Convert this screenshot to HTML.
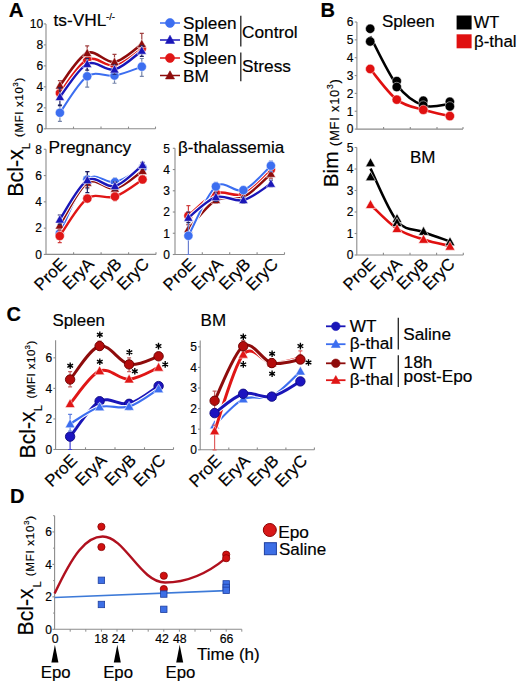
<!DOCTYPE html><html><head><meta charset="utf-8"><title>Figure</title><style>html,body{margin:0;padding:0;background:#fff;overflow:hidden;}svg{display:block;}text{font-family:"Liberation Sans", sans-serif;stroke:#000;stroke-width:0.18px;}</style></head><body>
<svg width="520" height="686" viewBox="0 0 520 686">
<rect width="520" height="686" fill="#fff"/>
<text x="8.8" y="16.8" font-size="20.5" text-anchor="start" font-weight="bold">A</text>
<g stroke="#8c8c8c" stroke-width="1.1" fill="none">
<path d="M46,23.9 V128.8 H155.5"/>
<path d="M46,128.8 h-2.2"/>
<path d="M46,107.82 h-2.2"/>
<path d="M46,86.84 h-2.2"/>
<path d="M46,65.86 h-2.2"/>
<path d="M46,44.88 h-2.2"/>
<path d="M46,23.9 h-2.2"/>
<path d="M73.5,128.8 v-2.2"/>
<path d="M101,128.8 v-2.2"/>
<path d="M128.5,128.8 v-2.2"/>
<path d="M155.5,128.8 v-2.2"/>
</g>
<text x="43.1" y="133.1" font-size="12" text-anchor="end">0</text>
<text x="43.1" y="112.12" font-size="12" text-anchor="end">2</text>
<text x="43.1" y="91.14" font-size="12" text-anchor="end">4</text>
<text x="43.1" y="70.16" font-size="12" text-anchor="end">6</text>
<text x="43.1" y="49.18" font-size="12" text-anchor="end">8</text>
<text x="43.1" y="28.2" font-size="12" text-anchor="end">10</text>
<text x="53.5" y="25.7" font-size="17.3" text-anchor="start">ts-VHL</text>
<text x="106" y="19.9" font-size="9.6" text-anchor="start">-/-</text>
<path d="M59.9,112.75 C64.45,106.68 78.1,82.54 87.2,76.35 C96.3,70.16 105.4,77.22 114.5,75.62 C123.6,74.01 137.25,68.19 141.8,66.7" fill="none" stroke="#fff" stroke-width="4" stroke-linecap="round"/>
<path d="M59.9,112.75 C64.45,106.68 78.1,82.54 87.2,76.35 C96.3,70.16 105.4,77.22 114.5,75.62 C123.6,74.01 137.25,68.19 141.8,66.7" fill="none" stroke="#3c6ef0" stroke-width="2" stroke-linecap="round"/>
<path d="M59.9,104.67 V121.46 M57.9,104.67 h4 M57.9,121.46 h4" stroke="#7484aa" stroke-width="1.2" fill="none"/>
<path d="M87.2,65.86 V87.15 M85.2,65.86 h4 M85.2,87.15 h4" stroke="#7484aa" stroke-width="1.2" fill="none"/>
<path d="M114.5,67.96 V83.27 M112.5,67.96 h4 M112.5,83.27 h4" stroke="#7484aa" stroke-width="1.2" fill="none"/>
<path d="M141.8,58.52 V76.35 M139.8,58.52 h4 M139.8,76.35 h4" stroke="#7484aa" stroke-width="1.2" fill="none"/>
<circle cx="59.9" cy="112.75" r="4.6" fill="#3c6ef0" stroke="#fff" stroke-width="0.5"/>
<circle cx="87.2" cy="76.35" r="4.6" fill="#3c6ef0" stroke="#fff" stroke-width="0.5"/>
<circle cx="114.5" cy="75.62" r="4.6" fill="#3c6ef0" stroke="#fff" stroke-width="0.5"/>
<circle cx="141.8" cy="66.7" r="4.6" fill="#3c6ef0" stroke="#fff" stroke-width="0.5"/>
<path d="M59.9,93.03 C64.45,87.49 78.1,64.39 87.2,59.78 C96.3,55.16 105.4,67.21 114.5,65.34 C123.6,63.46 137.25,51.35 141.8,48.55" fill="none" stroke="#fff" stroke-width="4.6" stroke-linecap="round"/>
<path d="M59.9,93.03 C64.45,87.49 78.1,64.39 87.2,59.78 C96.3,55.16 105.4,67.21 114.5,65.34 C123.6,63.46 137.25,51.35 141.8,48.55" fill="none" stroke="#e01616" stroke-width="2.6" stroke-linecap="round"/>
<circle cx="59.9" cy="93.03" r="4.6" fill="#e01616" stroke="#fff" stroke-width="0.5"/>
<circle cx="87.2" cy="59.78" r="4.6" fill="#e01616" stroke="#fff" stroke-width="0.5"/>
<circle cx="114.5" cy="65.34" r="4.6" fill="#e01616" stroke="#fff" stroke-width="0.5"/>
<circle cx="141.8" cy="48.55" r="4.6" fill="#e01616" stroke="#fff" stroke-width="0.5"/>
<path d="M59.9,85.48 C64.45,80.07 78.1,56.98 87.2,53.06 C96.3,49.15 105.4,63.48 114.5,61.98 C123.6,60.48 137.25,47.03 141.8,44.04" fill="none" stroke="#fff" stroke-width="4.6" stroke-linecap="round"/>
<path d="M59.9,85.48 C64.45,80.07 78.1,56.98 87.2,53.06 C96.3,49.15 105.4,63.48 114.5,61.98 C123.6,60.48 137.25,47.03 141.8,44.04" fill="none" stroke="#8e0c0c" stroke-width="2.6" stroke-linecap="round"/>
<path d="M59.9,80.55 V91.04 M57.9,80.55 h4 M57.9,91.04 h4" stroke="#a04040" stroke-width="1.2" fill="none"/>
<path d="M87.2,45.93 V59.57 M85.2,45.93 h4 M85.2,59.57 h4" stroke="#a04040" stroke-width="1.2" fill="none"/>
<path d="M114.5,54.32 V70.06 M112.5,54.32 h4 M112.5,70.06 h4" stroke="#a04040" stroke-width="1.2" fill="none"/>
<path d="M141.8,33.34 V52.22 M139.8,33.34 h4 M139.8,52.22 h4" stroke="#a04040" stroke-width="1.2" fill="none"/>
<polygon points="59.9,80.67 55.3,88.95 64.5,88.95" fill="#8e0c0c" stroke="#fff" stroke-width="0.5" stroke-linejoin="round"/>
<polygon points="87.2,48.26 82.6,56.54 91.8,56.54" fill="#8e0c0c" stroke="#fff" stroke-width="0.5" stroke-linejoin="round"/>
<polygon points="114.5,57.18 109.9,65.46 119.1,65.46" fill="#8e0c0c" stroke="#fff" stroke-width="0.5" stroke-linejoin="round"/>
<polygon points="141.8,39.24 137.2,47.52 146.4,47.52" fill="#8e0c0c" stroke="#fff" stroke-width="0.5" stroke-linejoin="round"/>
<path d="M59.9,97.02 C64.45,91.51 78.1,68.55 87.2,63.97 C96.3,59.39 105.4,71.73 114.5,69.53 C123.6,67.33 137.25,53.88 141.8,50.75" fill="none" stroke="#fff" stroke-width="4.4" stroke-linecap="round"/>
<path d="M59.9,97.02 C64.45,91.51 78.1,68.55 87.2,63.97 C96.3,59.39 105.4,71.73 114.5,69.53 C123.6,67.33 137.25,53.88 141.8,50.75" fill="none" stroke="#1a16b8" stroke-width="2.4" stroke-linecap="round"/>
<path d="M59.9,87.89 V105.72 M57.9,87.89 h4 M57.9,105.72 h4" stroke="#202060" stroke-width="1.2" fill="none"/>
<path d="M87.2,58.52 V70.06 M85.2,58.52 h4 M85.2,70.06 h4" stroke="#202060" stroke-width="1.2" fill="none"/>
<path d="M114.5,64.81 V74.25 M112.5,64.81 h4 M112.5,74.25 h4" stroke="#202060" stroke-width="1.2" fill="none"/>
<path d="M141.8,45.93 V56.42 M139.8,45.93 h4 M139.8,56.42 h4" stroke="#202060" stroke-width="1.2" fill="none"/>
<polygon points="59.9,92.21 55.3,100.49 64.5,100.49" fill="#1a16b8" stroke="#fff" stroke-width="0.5" stroke-linejoin="round"/>
<polygon points="87.2,59.17 82.6,67.45 91.8,67.45" fill="#1a16b8" stroke="#fff" stroke-width="0.5" stroke-linejoin="round"/>
<polygon points="114.5,64.73 109.9,73.01 119.1,73.01" fill="#1a16b8" stroke="#fff" stroke-width="0.5" stroke-linejoin="round"/>
<polygon points="141.8,45.95 137.2,54.23 146.4,54.23" fill="#1a16b8" stroke="#fff" stroke-width="0.5" stroke-linejoin="round"/>
<line x1="160" y1="23" x2="180" y2="23" stroke="#3c6ef0" stroke-width="1.5"/>
<circle cx="170" cy="23" r="4.5" fill="#3c6ef0" stroke="#3c6ef0" stroke-width="0.6"/>
<text x="183" y="29.4" font-size="17.2" text-anchor="start">Spleen</text>
<line x1="160" y1="40" x2="180" y2="40" stroke="#1a16b8" stroke-width="1.5"/>
<polygon points="170,35.3 165.5,43.4 174.5,43.4" fill="#1a16b8" stroke="#1a16b8" stroke-width="0.6" stroke-linejoin="round"/>
<text x="183" y="46.4" font-size="17.2" text-anchor="start">BM</text>
<line x1="160" y1="58" x2="180" y2="58" stroke="#e01616" stroke-width="1.5"/>
<circle cx="170" cy="58" r="4.5" fill="#e01616" stroke="#e01616" stroke-width="0.6"/>
<text x="183" y="64.4" font-size="17.2" text-anchor="start">Spleen</text>
<line x1="160" y1="75.5" x2="180" y2="75.5" stroke="#8e0c0c" stroke-width="1.5"/>
<polygon points="170,70.8 165.5,78.9 174.5,78.9" fill="#8e0c0c" stroke="#8e0c0c" stroke-width="0.6" stroke-linejoin="round"/>
<text x="183" y="81.9" font-size="17.2" text-anchor="start">BM</text>
<line x1="240.8" y1="15.8" x2="240.8" y2="46.6" stroke="#222" stroke-width="1.3"/>
<line x1="240.8" y1="52.5" x2="240.8" y2="81.2" stroke="#222" stroke-width="1.3"/>
<text x="242" y="38.2" font-size="17.3" text-anchor="start">Control</text>
<text x="242" y="72.4" font-size="17.3" text-anchor="start">Stress</text>
<g stroke="#8c8c8c" stroke-width="1.1" fill="none">
<path d="M46,149.28 V254.4 H156"/>
<path d="M46,254.4 h-2.2"/>
<path d="M46,228.12 h-2.2"/>
<path d="M46,201.84 h-2.2"/>
<path d="M46,175.56 h-2.2"/>
<path d="M46,149.28 h-2.2"/>
<path d="M73.6,254.4 v-2.2"/>
<path d="M101.1,254.4 v-2.2"/>
<path d="M128.6,254.4 v-2.2"/>
<path d="M156,254.4 v-2.2"/>
</g>
<text x="41.9" y="258.7" font-size="12" text-anchor="end">0</text>
<text x="41.9" y="232.42" font-size="12" text-anchor="end">2</text>
<text x="41.9" y="206.14" font-size="12" text-anchor="end">4</text>
<text x="41.9" y="179.86" font-size="12" text-anchor="end">6</text>
<text x="41.9" y="153.58" font-size="12" text-anchor="end">8</text>
<text x="48.6" y="152.5" font-size="17.3" text-anchor="start">Pregnancy</text>
<path d="M59.75,233.38 C64.35,224.4 78.15,188.04 87.35,179.5 C96.55,170.96 105.75,184.1 114.95,182.13 C124.15,180.16 137.95,170.08 142.55,167.68" fill="none" stroke="#fff" stroke-width="4" stroke-linecap="round"/>
<path d="M59.75,233.38 C64.35,224.4 78.15,188.04 87.35,179.5 C96.55,170.96 105.75,184.1 114.95,182.13 C124.15,180.16 137.95,170.08 142.55,167.68" fill="none" stroke="#3c6ef0" stroke-width="2" stroke-linecap="round"/>
<path d="M59.75,228.12 V238.63 M57.75,228.12 h4 M57.75,238.63 h4" stroke="#7484aa" stroke-width="1.2" fill="none"/>
<path d="M87.35,171.62 V188.7 M85.35,171.62 h4 M85.35,188.7 h4" stroke="#7484aa" stroke-width="1.2" fill="none"/>
<path d="M114.95,178.19 V186.07 M112.95,178.19 h4 M112.95,186.07 h4" stroke="#7484aa" stroke-width="1.2" fill="none"/>
<path d="M142.55,163.73 V171.62 M140.55,163.73 h4 M140.55,171.62 h4" stroke="#7484aa" stroke-width="1.2" fill="none"/>
<circle cx="59.75" cy="233.38" r="4.6" fill="#3c6ef0" stroke="#fff" stroke-width="0.5"/>
<circle cx="87.35" cy="179.5" r="4.6" fill="#3c6ef0" stroke="#fff" stroke-width="0.5"/>
<circle cx="114.95" cy="182.13" r="4.6" fill="#3c6ef0" stroke="#fff" stroke-width="0.5"/>
<circle cx="142.55" cy="167.68" r="4.6" fill="#3c6ef0" stroke="#fff" stroke-width="0.5"/>
<path d="M59.75,225.49 C64.35,218.37 78.15,188.92 87.35,182.79 C96.55,176.66 105.75,190.67 114.95,188.7 C124.15,186.73 137.95,173.92 142.55,170.96" fill="none" stroke="#fff" stroke-width="4.4" stroke-linecap="round"/>
<path d="M59.75,225.49 C64.35,218.37 78.15,188.92 87.35,182.79 C96.55,176.66 105.75,190.67 114.95,188.7 C124.15,186.73 137.95,173.92 142.55,170.96" fill="none" stroke="#8e0c0c" stroke-width="2.4" stroke-linecap="round"/>
<path d="M59.75,221.55 V229.43 M57.75,221.55 h4 M57.75,229.43 h4" stroke="#a04040" stroke-width="1.2" fill="none"/>
<path d="M87.35,178.19 V187.39 M85.35,178.19 h4 M85.35,187.39 h4" stroke="#a04040" stroke-width="1.2" fill="none"/>
<path d="M114.95,184.76 V192.64 M112.95,184.76 h4 M112.95,192.64 h4" stroke="#a04040" stroke-width="1.2" fill="none"/>
<path d="M142.55,167.68 V175.56 M140.55,167.68 h4 M140.55,175.56 h4" stroke="#a04040" stroke-width="1.2" fill="none"/>
<polygon points="59.75,220.69 55.15,228.97 64.35,228.97" fill="#8e0c0c" stroke="#fff" stroke-width="0.5" stroke-linejoin="round"/>
<polygon points="87.35,177.98 82.75,186.26 91.95,186.26" fill="#8e0c0c" stroke="#fff" stroke-width="0.5" stroke-linejoin="round"/>
<polygon points="114.95,183.9 110.35,192.18 119.55,192.18" fill="#8e0c0c" stroke="#fff" stroke-width="0.5" stroke-linejoin="round"/>
<polygon points="142.55,166.16 137.95,174.44 147.15,174.44" fill="#8e0c0c" stroke="#fff" stroke-width="0.5" stroke-linejoin="round"/>
<path d="M59.75,236 C64.35,229.76 78.15,205.12 87.35,198.56 C96.55,191.99 105.75,199.76 114.95,196.58 C124.15,193.41 137.95,182.35 142.55,179.5" fill="none" stroke="#fff" stroke-width="4.4" stroke-linecap="round"/>
<path d="M59.75,236 C64.35,229.76 78.15,205.12 87.35,198.56 C96.55,191.99 105.75,199.76 114.95,196.58 C124.15,193.41 137.95,182.35 142.55,179.5" fill="none" stroke="#e01616" stroke-width="2.4" stroke-linecap="round"/>
<path d="M59.75,230.75 V242.57 M57.75,230.75 h4 M57.75,242.57 h4" stroke="#d04040" stroke-width="1.2" fill="none"/>
<path d="M87.35,195.27 V201.84 M85.35,195.27 h4 M85.35,201.84 h4" stroke="#d04040" stroke-width="1.2" fill="none"/>
<path d="M114.95,192.64 V200.53 M112.95,192.64 h4 M112.95,200.53 h4" stroke="#d04040" stroke-width="1.2" fill="none"/>
<path d="M142.55,175.56 V183.44 M140.55,175.56 h4 M140.55,183.44 h4" stroke="#d04040" stroke-width="1.2" fill="none"/>
<circle cx="59.75" cy="236" r="4.6" fill="#e01616" stroke="#fff" stroke-width="0.5"/>
<circle cx="87.35" cy="198.56" r="4.6" fill="#e01616" stroke="#fff" stroke-width="0.5"/>
<circle cx="114.95" cy="196.58" r="4.6" fill="#e01616" stroke="#fff" stroke-width="0.5"/>
<circle cx="142.55" cy="179.5" r="4.6" fill="#e01616" stroke="#fff" stroke-width="0.5"/>
<path d="M59.75,219.58 C64.35,213.01 78.15,185.74 87.35,180.16 C96.55,174.57 105.75,188.59 114.95,186.07 C124.15,183.55 137.95,168.55 142.55,165.05" fill="none" stroke="#fff" stroke-width="4.4" stroke-linecap="round"/>
<path d="M59.75,219.58 C64.35,213.01 78.15,185.74 87.35,180.16 C96.55,174.57 105.75,188.59 114.95,186.07 C124.15,183.55 137.95,168.55 142.55,165.05" fill="none" stroke="#1a16b8" stroke-width="2.4" stroke-linecap="round"/>
<path d="M59.75,214.98 V224.18 M57.75,214.98 h4 M57.75,224.18 h4" stroke="#202060" stroke-width="1.2" fill="none"/>
<path d="M87.35,171.62 V192.64 M85.35,171.62 h4 M85.35,192.64 h4" stroke="#202060" stroke-width="1.2" fill="none"/>
<path d="M114.95,182.13 V190.01 M112.95,182.13 h4 M112.95,190.01 h4" stroke="#202060" stroke-width="1.2" fill="none"/>
<path d="M142.55,162.42 V168.99 M140.55,162.42 h4 M140.55,168.99 h4" stroke="#202060" stroke-width="1.2" fill="none"/>
<polygon points="59.75,214.78 55.15,223.06 64.35,223.06" fill="#1a16b8" stroke="#fff" stroke-width="0.5" stroke-linejoin="round"/>
<polygon points="87.35,175.36 82.75,183.64 91.95,183.64" fill="#1a16b8" stroke="#fff" stroke-width="0.5" stroke-linejoin="round"/>
<polygon points="114.95,181.27 110.35,189.55 119.55,189.55" fill="#1a16b8" stroke="#fff" stroke-width="0.5" stroke-linejoin="round"/>
<polygon points="142.55,160.25 137.95,168.53 147.15,168.53" fill="#1a16b8" stroke="#fff" stroke-width="0.5" stroke-linejoin="round"/>
<text font-size="16.8" text-anchor="end" transform="translate(67.35,265) rotate(-45)">ProE</text>
<text font-size="16.8" text-anchor="end" transform="translate(94.95,265) rotate(-45)">EryA</text>
<text font-size="16.8" text-anchor="end" transform="translate(122.55,265) rotate(-45)">EryB</text>
<text font-size="16.8" text-anchor="end" transform="translate(150.15,265) rotate(-45)">EryC</text>
<g stroke="#8c8c8c" stroke-width="1.1" fill="none">
<path d="M175,148.3 V254.5 H284.5"/>
<path d="M175,254.5 h-2.2"/>
<path d="M175,233.26 h-2.2"/>
<path d="M175,212.02 h-2.2"/>
<path d="M175,190.78 h-2.2"/>
<path d="M175,169.54 h-2.2"/>
<path d="M175,148.3 h-2.2"/>
<path d="M202.3,254.5 v-2.2"/>
<path d="M229.7,254.5 v-2.2"/>
<path d="M257.1,254.5 v-2.2"/>
<path d="M284.5,254.5 v-2.2"/>
</g>
<text x="169.9" y="258.8" font-size="12" text-anchor="end">0</text>
<text x="169.9" y="237.56" font-size="12" text-anchor="end">1</text>
<text x="169.9" y="216.32" font-size="12" text-anchor="end">2</text>
<text x="169.9" y="195.08" font-size="12" text-anchor="end">3</text>
<text x="169.9" y="173.84" font-size="12" text-anchor="end">4</text>
<text x="169.9" y="152.6" font-size="12" text-anchor="end">5</text>
<text x="178" y="152.5" font-size="17" text-anchor="start">&#946;-thalassemia</text>
<path d="M188.4,215.84 C192.98,212.09 206.73,196.97 215.9,193.33 C225.07,189.68 234.23,197.93 243.4,193.97 C252.57,190 266.32,173.61 270.9,169.54" fill="none" stroke="#fff" stroke-width="4.4" stroke-linecap="round"/>
<path d="M188.4,215.84 C192.98,212.09 206.73,196.97 215.9,193.33 C225.07,189.68 234.23,197.93 243.4,193.97 C252.57,190 266.32,173.61 270.9,169.54" fill="none" stroke="#e01616" stroke-width="2.4" stroke-linecap="round"/>
<path d="M188.4,205.65 V224.76 M186.4,205.65 h4 M186.4,224.76 h4" stroke="#d04040" stroke-width="1.2" fill="none"/>
<path d="M215.9,190.78 V197.15 M213.9,190.78 h4 M213.9,197.15 h4" stroke="#d04040" stroke-width="1.2" fill="none"/>
<path d="M243.4,190.78 V197.15 M241.4,190.78 h4 M241.4,197.15 h4" stroke="#d04040" stroke-width="1.2" fill="none"/>
<path d="M270.9,165.29 V173.79 M268.9,165.29 h4 M268.9,173.79 h4" stroke="#d04040" stroke-width="1.2" fill="none"/>
<circle cx="188.4" cy="215.84" r="4.6" fill="#e01616" stroke="#fff" stroke-width="0.5"/>
<circle cx="215.9" cy="193.33" r="4.6" fill="#e01616" stroke="#fff" stroke-width="0.5"/>
<circle cx="243.4" cy="193.97" r="4.6" fill="#e01616" stroke="#fff" stroke-width="0.5"/>
<circle cx="270.9" cy="169.54" r="4.6" fill="#e01616" stroke="#fff" stroke-width="0.5"/>
<path d="M188.4,229.01 C192.98,224.2 206.73,205.44 215.9,200.13 C225.07,194.82 234.23,201.54 243.4,197.15 C252.57,192.76 266.32,177.68 270.9,173.79" fill="none" stroke="#fff" stroke-width="4.4" stroke-linecap="round"/>
<path d="M188.4,229.01 C192.98,224.2 206.73,205.44 215.9,200.13 C225.07,194.82 234.23,201.54 243.4,197.15 C252.57,192.76 266.32,177.68 270.9,173.79" fill="none" stroke="#8e0c0c" stroke-width="2.4" stroke-linecap="round"/>
<path d="M188.4,224.76 V233.26 M186.4,224.76 h4 M186.4,233.26 h4" stroke="#a04040" stroke-width="1.2" fill="none"/>
<path d="M215.9,197.15 V203.52 M213.9,197.15 h4 M213.9,203.52 h4" stroke="#a04040" stroke-width="1.2" fill="none"/>
<path d="M243.4,193.97 V200.34 M241.4,193.97 h4 M241.4,200.34 h4" stroke="#a04040" stroke-width="1.2" fill="none"/>
<path d="M270.9,169.54 V178.04 M268.9,169.54 h4 M268.9,178.04 h4" stroke="#a04040" stroke-width="1.2" fill="none"/>
<polygon points="188.4,224.21 183.8,232.49 193,232.49" fill="#8e0c0c" stroke="#fff" stroke-width="0.5" stroke-linejoin="round"/>
<polygon points="215.9,195.32 211.3,203.6 220.5,203.6" fill="#8e0c0c" stroke="#fff" stroke-width="0.5" stroke-linejoin="round"/>
<polygon points="243.4,192.35 238.8,200.63 248,200.63" fill="#8e0c0c" stroke="#fff" stroke-width="0.5" stroke-linejoin="round"/>
<polygon points="270.9,168.99 266.3,177.27 275.5,177.27" fill="#8e0c0c" stroke="#fff" stroke-width="0.5" stroke-linejoin="round"/>
<path d="M188.4,235.81 C192.98,227.6 206.73,194.14 215.9,186.53 C225.07,178.92 234.23,193.61 243.4,190.14 C252.57,186.67 266.32,169.79 270.9,165.72" fill="none" stroke="#fff" stroke-width="4" stroke-linecap="round"/>
<path d="M188.4,235.81 C192.98,227.6 206.73,194.14 215.9,186.53 C225.07,178.92 234.23,193.61 243.4,190.14 C252.57,186.67 266.32,169.79 270.9,165.72" fill="none" stroke="#3c6ef0" stroke-width="2" stroke-linecap="round"/>
<path d="M188.4,216.27 V254.5 M186.4,216.27 h4 M186.4,254.5 h4" stroke="#6a7fd0" stroke-width="1.2" fill="none"/>
<path d="M215.9,182.28 V190.78 M213.9,182.28 h4 M213.9,190.78 h4" stroke="#6a7fd0" stroke-width="1.2" fill="none"/>
<path d="M243.4,186.53 V192.9 M241.4,186.53 h4 M241.4,192.9 h4" stroke="#6a7fd0" stroke-width="1.2" fill="none"/>
<path d="M270.9,161.04 V171.66 M268.9,161.04 h4 M268.9,171.66 h4" stroke="#6a7fd0" stroke-width="1.2" fill="none"/>
<circle cx="188.4" cy="235.81" r="4.6" fill="#3c6ef0" stroke="#fff" stroke-width="0.5"/>
<circle cx="215.9" cy="186.53" r="4.6" fill="#3c6ef0" stroke="#fff" stroke-width="0.5"/>
<circle cx="243.4" cy="190.14" r="4.6" fill="#3c6ef0" stroke="#fff" stroke-width="0.5"/>
<circle cx="270.9" cy="165.72" r="4.6" fill="#3c6ef0" stroke="#fff" stroke-width="0.5"/>
<path d="M188.4,217.75 C192.98,214.32 206.73,200.09 215.9,197.15 C225.07,194.21 234.23,202.36 243.4,200.13 C252.57,197.9 266.32,186.5 270.9,183.77" fill="none" stroke="#fff" stroke-width="4.4" stroke-linecap="round"/>
<path d="M188.4,217.75 C192.98,214.32 206.73,200.09 215.9,197.15 C225.07,194.21 234.23,202.36 243.4,200.13 C252.57,197.9 266.32,186.5 270.9,183.77" fill="none" stroke="#1a16b8" stroke-width="2.4" stroke-linecap="round"/>
<path d="M188.4,212.02 V222.64 M186.4,212.02 h4 M186.4,222.64 h4" stroke="#202060" stroke-width="1.2" fill="none"/>
<path d="M215.9,192.9 V201.4 M213.9,192.9 h4 M213.9,201.4 h4" stroke="#202060" stroke-width="1.2" fill="none"/>
<path d="M243.4,197.15 V203.52 M241.4,197.15 h4 M241.4,203.52 h4" stroke="#202060" stroke-width="1.2" fill="none"/>
<path d="M270.9,180.16 V186.53 M268.9,180.16 h4 M268.9,186.53 h4" stroke="#202060" stroke-width="1.2" fill="none"/>
<polygon points="188.4,212.95 183.8,221.23 193,221.23" fill="#1a16b8" stroke="#fff" stroke-width="0.5" stroke-linejoin="round"/>
<polygon points="215.9,192.35 211.3,200.63 220.5,200.63" fill="#1a16b8" stroke="#fff" stroke-width="0.5" stroke-linejoin="round"/>
<polygon points="243.4,195.32 238.8,203.6 248,203.6" fill="#1a16b8" stroke="#fff" stroke-width="0.5" stroke-linejoin="round"/>
<polygon points="270.9,178.97 266.3,187.25 275.5,187.25" fill="#1a16b8" stroke="#fff" stroke-width="0.5" stroke-linejoin="round"/>
<text font-size="16.8" text-anchor="end" transform="translate(196.5,265.3) rotate(-45)">ProE</text>
<text font-size="16.8" text-anchor="end" transform="translate(224,265.3) rotate(-45)">EryA</text>
<text font-size="16.8" text-anchor="end" transform="translate(251.5,265.3) rotate(-45)">EryB</text>
<text font-size="16.8" text-anchor="end" transform="translate(279,265.3) rotate(-45)">EryC</text>
<text font-size="21.4" transform="translate(22.8,196.8) rotate(-90)">Bcl-x</text>
<text font-size="10.6" transform="translate(29.8,148.9) rotate(-90)">L</text>
<text font-size="11.4" letter-spacing="0.7" transform="translate(22.9,137) rotate(-90)">(MFI x10<tspan font-size="7.52" dy="-4.56">3</tspan><tspan dy="4.56">)</tspan></text>
<text x="320.6" y="16.7" font-size="20" text-anchor="start" font-weight="bold">B</text>
<g stroke="#8c8c8c" stroke-width="1.1" fill="none">
<path d="M356.9,22 V129.1 H463"/>
<path d="M356.9,129.1 h-2.2"/>
<path d="M356.9,111.25 h-2.2"/>
<path d="M356.9,93.4 h-2.2"/>
<path d="M356.9,75.55 h-2.2"/>
<path d="M356.9,57.7 h-2.2"/>
<path d="M356.9,39.85 h-2.2"/>
<path d="M356.9,22 h-2.2"/>
<path d="M383.6,129.1 v-2.2"/>
<path d="M410.3,129.1 v-2.2"/>
<path d="M437,129.1 v-2.2"/>
<path d="M463,129.1 v-2.2"/>
</g>
<text x="353.5" y="133.4" font-size="12" text-anchor="end">0</text>
<text x="353.5" y="115.55" font-size="12" text-anchor="end">1</text>
<text x="353.5" y="97.7" font-size="12" text-anchor="end">2</text>
<text x="353.5" y="79.85" font-size="12" text-anchor="end">3</text>
<text x="353.5" y="62" font-size="12" text-anchor="end">4</text>
<text x="353.5" y="44.15" font-size="12" text-anchor="end">5</text>
<text x="353.5" y="26.3" font-size="12" text-anchor="end">6</text>
<text x="381.9" y="26.8" font-size="17" text-anchor="start">Spleen</text>
<path d="M370.2,36.28 C374.62,44.37 387.9,73.29 396.75,84.83 C405.6,96.38 414.45,102.35 423.3,105.54 C432.15,108.72 445.43,104.2 449.85,103.93" fill="none" stroke="#000" stroke-width="2.6"/>
<path d="M370.2,68.95 C374.62,74.06 387.9,92.83 396.75,99.65 C405.6,106.46 414.45,107.08 423.3,109.82 C432.15,112.56 445.43,115.03 449.85,116.07" fill="none" stroke="#e01010" stroke-width="2.6"/>
<circle cx="370.2" cy="28.78" r="4.7" fill="#000" stroke="#fff" stroke-width="0.5"/>
<circle cx="370.2" cy="41.46" r="4.7" fill="#000" stroke="#fff" stroke-width="0.5"/>
<circle cx="396.75" cy="81.08" r="4.7" fill="#000" stroke="#fff" stroke-width="0.5"/>
<circle cx="396.75" cy="86.97" r="4.7" fill="#000" stroke="#fff" stroke-width="0.5"/>
<circle cx="423.3" cy="100.72" r="4.7" fill="#000" stroke="#fff" stroke-width="0.5"/>
<circle cx="423.3" cy="105.54" r="4.7" fill="#000" stroke="#fff" stroke-width="0.5"/>
<circle cx="449.85" cy="101.79" r="4.7" fill="#000" stroke="#fff" stroke-width="0.5"/>
<circle cx="449.85" cy="106.43" r="4.7" fill="#000" stroke="#fff" stroke-width="0.5"/>
<circle cx="370.2" cy="68.95" r="4.7" fill="#e01010" stroke="#fff" stroke-width="0.5"/>
<circle cx="396.75" cy="99.65" r="4.7" fill="#e01010" stroke="#fff" stroke-width="0.5"/>
<circle cx="423.3" cy="109.82" r="4.7" fill="#e01010" stroke="#fff" stroke-width="0.5"/>
<circle cx="449.85" cy="116.07" r="4.7" fill="#e01010" stroke="#fff" stroke-width="0.5"/>
<rect x="456.6" y="15.5" width="15" height="14" fill="#000"/>
<rect x="456.6" y="34.3" width="15" height="14" fill="#e01010"/>
<text x="473.8" y="28.1" font-size="16.4" text-anchor="start">WT</text>
<text x="474" y="46.8" font-size="16.9" text-anchor="start">&#946;-thal</text>
<g stroke="#8c8c8c" stroke-width="1.1" fill="none">
<path d="M356.8,147.5 V255 H463.3"/>
<path d="M356.8,255 h-2.2"/>
<path d="M356.8,233.5 h-2.2"/>
<path d="M356.8,212 h-2.2"/>
<path d="M356.8,190.5 h-2.2"/>
<path d="M356.8,169 h-2.2"/>
<path d="M356.8,147.5 h-2.2"/>
<path d="M383.4,255 v-2.2"/>
<path d="M410,255 v-2.2"/>
<path d="M436.6,255 v-2.2"/>
<path d="M463.3,255 v-2.2"/>
</g>
<text x="353.4" y="259.3" font-size="12" text-anchor="end">0</text>
<text x="353.4" y="237.8" font-size="12" text-anchor="end">1</text>
<text x="353.4" y="216.3" font-size="12" text-anchor="end">2</text>
<text x="353.4" y="194.8" font-size="12" text-anchor="end">3</text>
<text x="353.4" y="173.3" font-size="12" text-anchor="end">4</text>
<text x="353.4" y="151.8" font-size="12" text-anchor="end">5</text>
<text x="410" y="163" font-size="17" text-anchor="start">BM</text>
<path d="M370.5,168.57 C374.92,177.31 388.17,210.46 397,221.03 C405.83,231.6 414.67,228.59 423.5,232 C432.33,235.4 445.58,239.88 450,241.46" fill="none" stroke="#000" stroke-width="2.6"/>
<path d="M370.5,204.69 C374.92,208.7 388.17,222.97 397,228.77 C405.83,234.58 414.67,236.65 423.5,239.52 C432.33,242.39 445.58,244.9 450,245.97" fill="none" stroke="#e01010" stroke-width="2.6"/>
<polygon points="370.5,157.76 365.5,166.76 375.5,166.76" fill="#000" stroke="#fff" stroke-width="0.6" stroke-linejoin="round"/>
<polygon points="370.5,171.73 365.5,180.73 375.5,180.73" fill="#000" stroke="#fff" stroke-width="0.6" stroke-linejoin="round"/>
<polygon points="397,213.44 392,222.44 402,222.44" fill="#000" stroke="#fff" stroke-width="0.6" stroke-linejoin="round"/>
<polygon points="397,217.53 392,226.53 402,226.53" fill="#000" stroke="#fff" stroke-width="0.6" stroke-linejoin="round"/>
<polygon points="423.5,226.34 418.5,235.34 428.5,235.34" fill="#000" stroke="#fff" stroke-width="0.6" stroke-linejoin="round"/>
<polygon points="450,236.66 445,245.66 455,245.66" fill="#000" stroke="#fff" stroke-width="0.6" stroke-linejoin="round"/>
<polygon points="370.5,199.47 365.5,208.47 375.5,208.47" fill="#e01010" stroke="#fff" stroke-width="0.6" stroke-linejoin="round"/>
<polygon points="397,223.55 392,232.55 402,232.55" fill="#e01010" stroke="#fff" stroke-width="0.6" stroke-linejoin="round"/>
<polygon points="423.5,234.3 418.5,243.3 428.5,243.3" fill="#e01010" stroke="#fff" stroke-width="0.6" stroke-linejoin="round"/>
<polygon points="450,241.18 445,250.18 455,250.18" fill="#e01010" stroke="#fff" stroke-width="0.6" stroke-linejoin="round"/>
<text font-size="16.8" text-anchor="end" transform="translate(376.3,265) rotate(-45)">ProE</text>
<text font-size="16.8" text-anchor="end" transform="translate(402.8,265) rotate(-45)">EryA</text>
<text font-size="16.8" text-anchor="end" transform="translate(429.3,265) rotate(-45)">EryB</text>
<text font-size="16.8" text-anchor="end" transform="translate(455.8,265) rotate(-45)">EryC</text>
<text font-size="20.8" transform="translate(338.2,187.3) rotate(-90)">Bim</text>
<text font-size="12.8" letter-spacing="0.8" transform="translate(338.5,145.9) rotate(-90)">(MFI x10<tspan font-size="8.45" dy="-5.12">3</tspan><tspan dy="5.12">)</tspan></text>
<text x="6.6" y="320.6" font-size="20" text-anchor="start" font-weight="bold">C</text>
<g stroke="#8c8c8c" stroke-width="1.1" fill="none">
<path d="M55.6,340.25 V449.5 H173.5"/>
<path d="M55.6,449.5 h-2.2"/>
<path d="M55.6,418.94 h-2.2"/>
<path d="M55.6,388.38 h-2.2"/>
<path d="M55.6,357.82 h-2.2"/>
<path d="M85.5,449.5 v-2.2"/>
<path d="M115,449.5 v-2.2"/>
<path d="M144.5,449.5 v-2.2"/>
<path d="M173.5,449.5 v-2.2"/>
</g>
<text x="52.3" y="453.8" font-size="12" text-anchor="end">0</text>
<text x="52.3" y="423.24" font-size="12" text-anchor="end">2</text>
<text x="52.3" y="392.68" font-size="12" text-anchor="end">4</text>
<text x="52.3" y="362.12" font-size="12" text-anchor="end">6</text>
<text x="52.4" y="325.9" font-size="16.9" text-anchor="start">Spleen</text>
<path d="M70.1,379.52 C75.02,373.94 89.77,348.58 99.6,346.05 C109.43,343.53 119.27,362.68 129.1,364.39 C138.93,366.1 153.68,357.64 158.6,356.29" fill="none" stroke="#fff" stroke-width="5" stroke-linecap="round"/>
<path d="M70.1,379.52 C75.02,373.94 89.77,348.58 99.6,346.05 C109.43,343.53 119.27,362.68 129.1,364.39 C138.93,366.1 153.68,357.64 158.6,356.29" fill="none" stroke="#8e0c0c" stroke-width="3" stroke-linecap="round"/>
<path d="M70.1,371.57 V386.85 M68.1,371.57 h4 M68.1,386.85 h4" stroke="#c06060" stroke-width="1.2" fill="none"/>
<path d="M99.6,341.01 V350.18 M97.6,341.01 h4 M97.6,350.18 h4" stroke="#c06060" stroke-width="1.2" fill="none"/>
<path d="M129.1,357.82 V371.57 M127.1,357.82 h4 M127.1,371.57 h4" stroke="#c06060" stroke-width="1.2" fill="none"/>
<path d="M158.6,353.24 V359.35 M156.6,353.24 h4 M156.6,359.35 h4" stroke="#c06060" stroke-width="1.2" fill="none"/>
<circle cx="70.1" cy="379.52" r="4.7" fill="#b40c0c" stroke="#6a0000" stroke-width="0.9"/>
<circle cx="99.6" cy="346.05" r="4.7" fill="#b40c0c" stroke="#6a0000" stroke-width="0.9"/>
<circle cx="129.1" cy="364.39" r="4.7" fill="#b40c0c" stroke="#6a0000" stroke-width="0.9"/>
<circle cx="158.6" cy="356.29" r="4.7" fill="#b40c0c" stroke="#6a0000" stroke-width="0.9"/>
<path d="M70.1,403.81 C75.02,398.34 89.77,375.06 99.6,370.96 C109.43,366.86 119.27,379.8 129.1,379.21 C138.93,378.63 153.68,369.41 158.6,367.45" fill="none" stroke="#fff" stroke-width="5" stroke-linecap="round"/>
<path d="M70.1,403.81 C75.02,398.34 89.77,375.06 99.6,370.96 C109.43,366.86 119.27,379.8 129.1,379.21 C138.93,378.63 153.68,369.41 158.6,367.45" fill="none" stroke="#e01616" stroke-width="3" stroke-linecap="round"/>
<polygon points="70.1,398.7 65.2,407.52 75,407.52" fill="#e01616" stroke="#fff" stroke-width="0.5" stroke-linejoin="round"/>
<polygon points="99.6,365.85 94.7,374.67 104.5,374.67" fill="#e01616" stroke="#fff" stroke-width="0.5" stroke-linejoin="round"/>
<polygon points="129.1,374.1 124.2,382.92 134,382.92" fill="#e01616" stroke="#fff" stroke-width="0.5" stroke-linejoin="round"/>
<polygon points="158.6,362.33 153.7,371.15 163.5,371.15" fill="#e01616" stroke="#fff" stroke-width="0.5" stroke-linejoin="round"/>
<path d="M70.1,436.66 C75.02,430.76 89.77,406.69 99.6,401.22 C109.43,395.74 119.27,406.33 129.1,403.81 C138.93,401.29 153.68,389.04 158.6,386.09" fill="none" stroke="#fff" stroke-width="5" stroke-linecap="round"/>
<path d="M70.1,436.66 C75.02,430.76 89.77,406.69 99.6,401.22 C109.43,395.74 119.27,406.33 129.1,403.81 C138.93,401.29 153.68,389.04 158.6,386.09" fill="none" stroke="#1a16b8" stroke-width="3" stroke-linecap="round"/>
<path d="M70.1,434.22 V449.5 M68.1,434.22 h4 M68.1,449.5 h4" stroke="#4040d0" stroke-width="1.2" fill="none"/>
<path d="M99.6,399.08 V403.66 M97.6,399.08 h4 M97.6,403.66 h4" stroke="#4040d0" stroke-width="1.2" fill="none"/>
<path d="M129.1,402.13 V406.72 M127.1,402.13 h4 M127.1,406.72 h4" stroke="#4040d0" stroke-width="1.2" fill="none"/>
<path d="M158.6,383.8 V388.38 M156.6,383.8 h4 M156.6,388.38 h4" stroke="#4040d0" stroke-width="1.2" fill="none"/>
<circle cx="70.1" cy="436.66" r="4.7" fill="#1c14c0" stroke="#0c0880" stroke-width="0.9"/>
<circle cx="99.6" cy="401.22" r="4.7" fill="#1c14c0" stroke="#0c0880" stroke-width="0.9"/>
<circle cx="129.1" cy="403.81" r="4.7" fill="#1c14c0" stroke="#0c0880" stroke-width="0.9"/>
<circle cx="158.6" cy="386.09" r="4.7" fill="#1c14c0" stroke="#0c0880" stroke-width="0.9"/>
<path d="M70.1,423.98 C75.02,421.16 89.77,409.92 99.6,407.02 C109.43,404.12 119.27,409.57 129.1,406.56 C138.93,403.56 153.68,391.92 158.6,388.99" fill="none" stroke="#fff" stroke-width="4.2" stroke-linecap="round"/>
<path d="M70.1,423.98 C75.02,421.16 89.77,409.92 99.6,407.02 C109.43,404.12 119.27,409.57 129.1,406.56 C138.93,403.56 153.68,391.92 158.6,388.99" fill="none" stroke="#3c6ef0" stroke-width="2.2" stroke-linecap="round"/>
<path d="M70.1,414.36 V431.16 M68.1,414.36 h4 M68.1,431.16 h4" stroke="#6080e0" stroke-width="1.2" fill="none"/>
<path d="M99.6,403.66 V409.77 M97.6,403.66 h4 M97.6,409.77 h4" stroke="#6080e0" stroke-width="1.2" fill="none"/>
<path d="M129.1,403.66 V409.77 M127.1,403.66 h4 M127.1,409.77 h4" stroke="#6080e0" stroke-width="1.2" fill="none"/>
<path d="M158.6,386.85 V391.44 M156.6,386.85 h4 M156.6,391.44 h4" stroke="#6080e0" stroke-width="1.2" fill="none"/>
<polygon points="70.1,418.87 65.2,427.69 75,427.69" fill="#3c6ef0" stroke="#fff" stroke-width="0.5" stroke-linejoin="round"/>
<polygon points="99.6,401.91 94.7,410.73 104.5,410.73" fill="#3c6ef0" stroke="#fff" stroke-width="0.5" stroke-linejoin="round"/>
<polygon points="129.1,401.45 124.2,410.27 134,410.27" fill="#3c6ef0" stroke="#fff" stroke-width="0.5" stroke-linejoin="round"/>
<polygon points="158.6,383.88 153.7,392.7 163.5,392.7" fill="#3c6ef0" stroke="#fff" stroke-width="0.5" stroke-linejoin="round"/>
<path d="M70.2,362.5 L70.2,369.1 M67.34,364.15 L73.06,367.45 M73.06,364.15 L67.34,367.45" stroke="#000" stroke-width="1.35" stroke-linecap="butt" fill="none"/>
<path d="M99.8,331.5 L99.8,338.1 M96.94,333.15 L102.66,336.45 M102.66,333.15 L96.94,336.45" stroke="#000" stroke-width="1.35" stroke-linecap="butt" fill="none"/>
<path d="M99.8,358.4 L99.8,365 M96.94,360.05 L102.66,363.35 M102.66,360.05 L96.94,363.35" stroke="#000" stroke-width="1.35" stroke-linecap="butt" fill="none"/>
<path d="M129.4,349 L129.4,355.6 M126.54,350.65 L132.26,353.95 M132.26,350.65 L126.54,353.95" stroke="#000" stroke-width="1.35" stroke-linecap="butt" fill="none"/>
<path d="M134.8,367.9 L134.8,374.5 M131.94,369.55 L137.66,372.85 M137.66,369.55 L131.94,372.85" stroke="#000" stroke-width="1.35" stroke-linecap="butt" fill="none"/>
<path d="M158.5,342.8 L158.5,349.4 M155.64,344.45 L161.36,347.75 M161.36,344.45 L155.64,347.75" stroke="#000" stroke-width="1.35" stroke-linecap="butt" fill="none"/>
<path d="M165.2,361.1 L165.2,367.7 M162.34,362.75 L168.06,366.05 M168.06,362.75 L162.34,366.05" stroke="#000" stroke-width="1.35" stroke-linecap="butt" fill="none"/>
<text font-size="16.8" text-anchor="end" transform="translate(78.1,461.3) rotate(-45)">ProE</text>
<text font-size="16.8" text-anchor="end" transform="translate(107.6,461.3) rotate(-45)">EryA</text>
<text font-size="16.8" text-anchor="end" transform="translate(137.1,461.3) rotate(-45)">EryB</text>
<text font-size="16.8" text-anchor="end" transform="translate(166.6,461.3) rotate(-45)">EryC</text>
<g stroke="#8c8c8c" stroke-width="1.1" fill="none">
<path d="M200.2,340.62 V449.8 H314.4"/>
<path d="M200.2,449.8 h-2.2"/>
<path d="M200.2,429.2 h-2.2"/>
<path d="M200.2,408.6 h-2.2"/>
<path d="M200.2,388 h-2.2"/>
<path d="M200.2,367.4 h-2.2"/>
<path d="M200.2,346.8 h-2.2"/>
<path d="M228.8,449.8 v-2.2"/>
<path d="M257.3,449.8 v-2.2"/>
<path d="M285.9,449.8 v-2.2"/>
<path d="M314.4,449.8 v-2.2"/>
</g>
<text x="196.9" y="454.1" font-size="12" text-anchor="end">0</text>
<text x="196.9" y="433.5" font-size="12" text-anchor="end">1</text>
<text x="196.9" y="412.9" font-size="12" text-anchor="end">2</text>
<text x="196.9" y="392.3" font-size="12" text-anchor="end">3</text>
<text x="196.9" y="371.7" font-size="12" text-anchor="end">4</text>
<text x="196.9" y="351.1" font-size="12" text-anchor="end">5</text>
<text x="200.6" y="326.4" font-size="17" text-anchor="start">BM</text>
<path d="M214.6,425.08 C219.37,420.75 233.67,403.93 243.2,399.12 C252.73,394.32 262.27,400.88 271.8,396.24 C281.33,391.61 295.63,375.47 300.4,371.31" fill="none" stroke="#fff" stroke-width="4.2" stroke-linecap="round"/>
<path d="M214.6,425.08 C219.37,420.75 233.67,403.93 243.2,399.12 C252.73,394.32 262.27,400.88 271.8,396.24 C281.33,391.61 295.63,375.47 300.4,371.31" fill="none" stroke="#3c6ef0" stroke-width="2.2" stroke-linecap="round"/>
<polygon points="214.6,419.96 209.7,428.78 219.5,428.78" fill="#3c6ef0" stroke="#fff" stroke-width="0.5" stroke-linejoin="round"/>
<polygon points="243.2,394.01 238.3,402.83 248.1,402.83" fill="#3c6ef0" stroke="#fff" stroke-width="0.5" stroke-linejoin="round"/>
<polygon points="271.8,391.12 266.9,399.94 276.7,399.94" fill="#3c6ef0" stroke="#fff" stroke-width="0.5" stroke-linejoin="round"/>
<polygon points="300.4,366.2 295.5,375.02 305.3,375.02" fill="#3c6ef0" stroke="#fff" stroke-width="0.5" stroke-linejoin="round"/>
<path d="M214.6,431.05 C219.37,418.28 233.67,365.75 243.2,354.42 C252.73,343.09 262.27,362.52 271.8,363.07 C281.33,363.62 295.63,358.61 300.4,357.72" fill="none" stroke="#fff" stroke-width="5" stroke-linecap="round"/>
<path d="M214.6,431.05 C219.37,418.28 233.67,365.75 243.2,354.42 C252.73,343.09 262.27,362.52 271.8,363.07 C281.33,363.62 295.63,358.61 300.4,357.72" fill="none" stroke="#e01616" stroke-width="3" stroke-linecap="round"/>
<path d="M214.6,425.08 V449.8 M212.6,425.08 h4 M212.6,449.8 h4" stroke="#e06060" stroke-width="1.2" fill="none"/>
<path d="M243.2,348.86 V357.1 M241.2,348.86 h4 M241.2,357.1 h4" stroke="#e06060" stroke-width="1.2" fill="none"/>
<path d="M271.8,359.16 V367.4 M269.8,359.16 h4 M269.8,367.4 h4" stroke="#e06060" stroke-width="1.2" fill="none"/>
<path d="M300.4,350.92 V361.22 M298.4,350.92 h4 M298.4,361.22 h4" stroke="#e06060" stroke-width="1.2" fill="none"/>
<polygon points="214.6,425.94 209.7,434.76 219.5,434.76" fill="#e01616" stroke="#fff" stroke-width="0.5" stroke-linejoin="round"/>
<polygon points="243.2,349.31 238.3,358.13 248.1,358.13" fill="#e01616" stroke="#fff" stroke-width="0.5" stroke-linejoin="round"/>
<polygon points="271.8,357.96 266.9,366.78 276.7,366.78" fill="#e01616" stroke="#fff" stroke-width="0.5" stroke-linejoin="round"/>
<polygon points="300.4,352.6 295.5,361.42 305.3,361.42" fill="#e01616" stroke="#fff" stroke-width="0.5" stroke-linejoin="round"/>
<path d="M214.6,400.77 C219.37,391.67 233.67,352.47 243.2,346.18 C252.73,339.9 262.27,360.84 271.8,363.07 C281.33,365.31 295.63,360.16 300.4,359.57" fill="none" stroke="#fff" stroke-width="5" stroke-linecap="round"/>
<path d="M214.6,400.77 C219.37,391.67 233.67,352.47 243.2,346.18 C252.73,339.9 262.27,360.84 271.8,363.07 C281.33,365.31 295.63,360.16 300.4,359.57" fill="none" stroke="#8e0c0c" stroke-width="3" stroke-linecap="round"/>
<path d="M214.6,391.09 V408.6 M212.6,391.09 h4 M212.6,408.6 h4" stroke="#c06060" stroke-width="1.2" fill="none"/>
<path d="M243.2,340.62 V350.92 M241.2,340.62 h4 M241.2,350.92 h4" stroke="#c06060" stroke-width="1.2" fill="none"/>
<path d="M271.8,359.16 V367.4 M269.8,359.16 h4 M269.8,367.4 h4" stroke="#c06060" stroke-width="1.2" fill="none"/>
<path d="M300.4,355.04 V363.28 M298.4,355.04 h4 M298.4,363.28 h4" stroke="#c06060" stroke-width="1.2" fill="none"/>
<circle cx="214.6" cy="400.77" r="4.7" fill="#b40c0c" stroke="#6a0000" stroke-width="0.9"/>
<circle cx="243.2" cy="346.18" r="4.7" fill="#b40c0c" stroke="#6a0000" stroke-width="0.9"/>
<circle cx="271.8" cy="363.07" r="4.7" fill="#b40c0c" stroke="#6a0000" stroke-width="0.9"/>
<circle cx="300.4" cy="359.57" r="4.7" fill="#b40c0c" stroke="#6a0000" stroke-width="0.9"/>
<path d="M214.6,413.13 C219.37,409.9 233.67,396.51 243.2,393.77 C252.73,391.02 262.27,398.71 271.8,396.65 C281.33,394.59 295.63,383.95 300.4,381.41" fill="none" stroke="#fff" stroke-width="5" stroke-linecap="round"/>
<path d="M214.6,413.13 C219.37,409.9 233.67,396.51 243.2,393.77 C252.73,391.02 262.27,398.71 271.8,396.65 C281.33,394.59 295.63,383.95 300.4,381.41" fill="none" stroke="#1a16b8" stroke-width="3" stroke-linecap="round"/>
<circle cx="214.6" cy="413.13" r="4.7" fill="#1c14c0" stroke="#0c0880" stroke-width="0.9"/>
<circle cx="243.2" cy="393.77" r="4.7" fill="#1c14c0" stroke="#0c0880" stroke-width="0.9"/>
<circle cx="271.8" cy="396.65" r="4.7" fill="#1c14c0" stroke="#0c0880" stroke-width="0.9"/>
<circle cx="300.4" cy="381.41" r="4.7" fill="#1c14c0" stroke="#0c0880" stroke-width="0.9"/>
<path d="M243.3,333.5 L243.3,340.1 M240.44,335.15 L246.16,338.45 M246.16,335.15 L240.44,338.45" stroke="#000" stroke-width="1.35" stroke-linecap="butt" fill="none"/>
<path d="M243.3,361.1 L243.3,367.7 M240.44,362.75 L246.16,366.05 M246.16,362.75 L240.44,366.05" stroke="#000" stroke-width="1.35" stroke-linecap="butt" fill="none"/>
<path d="M272.1,350.4 L272.1,357 M269.24,352.05 L274.96,355.35 M274.96,352.05 L269.24,355.35" stroke="#000" stroke-width="1.35" stroke-linecap="butt" fill="none"/>
<path d="M272.1,370.5 L272.1,377.1 M269.24,372.15 L274.96,375.45 M274.96,372.15 L269.24,375.45" stroke="#000" stroke-width="1.35" stroke-linecap="butt" fill="none"/>
<path d="M300.4,342.8 L300.4,349.4 M297.54,344.45 L303.26,347.75 M303.26,344.45 L297.54,347.75" stroke="#000" stroke-width="1.35" stroke-linecap="butt" fill="none"/>
<path d="M308.5,359.2 L308.5,365.8 M305.64,360.85 L311.36,364.15 M311.36,360.85 L305.64,364.15" stroke="#000" stroke-width="1.35" stroke-linecap="butt" fill="none"/>
<text font-size="16.8" text-anchor="end" transform="translate(222.4,461.8) rotate(-45)">ProE</text>
<text font-size="16.8" text-anchor="end" transform="translate(251,461.8) rotate(-45)">EryA</text>
<text font-size="16.8" text-anchor="end" transform="translate(279.6,461.8) rotate(-45)">EryB</text>
<text font-size="16.8" text-anchor="end" transform="translate(308.2,461.8) rotate(-45)">EryC</text>
<text font-size="21.2" transform="translate(34.8,458.4) rotate(-90)">Bcl-x</text>
<text font-size="10.6" transform="translate(42.4,411) rotate(-90)">L</text>
<text font-size="11.5" letter-spacing="0.5" transform="translate(34.6,398.5) rotate(-90)">(MFI x10<tspan font-size="7.59" dy="-4.6">3</tspan><tspan dy="4.6">)</tspan></text>
<line x1="326" y1="326.3" x2="345.5" y2="326.3" stroke="#1a16b8" stroke-width="1.8"/>
<circle cx="335.8" cy="326.3" r="4.3" fill="#1a16b8" stroke="#1a16b8" stroke-width="0.6"/>
<text x="349.8" y="331.5" font-size="17.2" text-anchor="start">WT</text>
<line x1="326" y1="344.2" x2="345.5" y2="344.2" stroke="#3c6ef0" stroke-width="1.8"/>
<polygon points="335.8,339.61 331.4,347.53 340.2,347.53" fill="#3c6ef0" stroke="#3c6ef0" stroke-width="0.6" stroke-linejoin="round"/>
<text x="349.8" y="349.4" font-size="17.2" text-anchor="start">&#946;-thal</text>
<line x1="326" y1="363.3" x2="345.5" y2="363.3" stroke="#8e0c0c" stroke-width="1.8"/>
<circle cx="335.8" cy="363.3" r="4.3" fill="#8e0c0c" stroke="#8e0c0c" stroke-width="0.6"/>
<text x="349.8" y="368.5" font-size="17.2" text-anchor="start">WT</text>
<line x1="326" y1="380.2" x2="345.5" y2="380.2" stroke="#e01616" stroke-width="1.8"/>
<polygon points="335.8,375.61 331.4,383.53 340.2,383.53" fill="#e01616" stroke="#e01616" stroke-width="0.6" stroke-linejoin="round"/>
<text x="349.8" y="385.4" font-size="17.2" text-anchor="start">&#946;-thal</text>
<line x1="398.3" y1="317.7" x2="398.3" y2="349.4" stroke="#222" stroke-width="1.3"/>
<line x1="398.3" y1="355.2" x2="398.3" y2="386.9" stroke="#222" stroke-width="1.3"/>
<text x="403.2" y="340.4" font-size="17.2" text-anchor="start">Saline</text>
<text x="403.6" y="368.1" font-size="17.2" text-anchor="start">18h</text>
<text x="403.6" y="382.1" font-size="17.2" text-anchor="start">post-Epo</text>
<text x="10" y="502.8" font-size="20" text-anchor="start" font-weight="bold">D</text>
<g stroke="#8c8c8c" stroke-width="1.1" fill="none">
<path d="M54.6,515.69 V629.3 H241.8"/>
<path d="M54.6,629.3 h-2.2"/>
<path d="M54.6,596.84 h-2.2"/>
<path d="M54.6,564.38 h-2.2"/>
<path d="M54.6,531.92 h-2.2"/>
</g>
<text x="51.9" y="633.6" font-size="12" text-anchor="end">0</text>
<text x="51.9" y="601.14" font-size="12" text-anchor="end">2</text>
<text x="51.9" y="568.68" font-size="12" text-anchor="end">4</text>
<text x="51.9" y="536.22" font-size="12" text-anchor="end">6</text>
<g stroke="#8c8c8c" stroke-width="1">
<path d="M70.2,629.3 v2.4"/>
<path d="M85.8,629.3 v2.4"/>
<path d="M101.4,629.3 v2.4"/>
<path d="M117,629.3 v2.4"/>
<path d="M132.6,629.3 v2.4"/>
<path d="M148.2,629.3 v2.4"/>
<path d="M163.8,629.3 v2.4"/>
<path d="M179.4,629.3 v2.4"/>
<path d="M195,629.3 v2.4"/>
<path d="M210.6,629.3 v2.4"/>
<path d="M226.2,629.3 v2.4"/>
<path d="M241.8,629.3 v2.4"/>
<path d="M54.6,613.07 h-1.5"/>
<path d="M54.6,580.61 h-1.5"/>
<path d="M54.6,548.15 h-1.5"/>
<path d="M54.6,515.69 h-1.5"/>
</g>
<path d="M54.6,593.59 C72.8,554.64 85.8,536.46 102.7,536.46 C124.8,536.46 140.4,582.56 165.1,582.56 C189.8,582.56 210.6,570.87 226.2,557.89" fill="none" stroke="#b0101e" stroke-width="2.4"/>
<line x1="54.6" y1="597.49" x2="226.2" y2="590.67" stroke="#3d7ad8" stroke-width="1.6"/>
<circle cx="101.4" cy="526.73" r="3.6" fill="#d01010" stroke="#8a0000" stroke-width="0.8"/>
<circle cx="101.4" cy="547.01" r="3.6" fill="#d01010" stroke="#8a0000" stroke-width="0.8"/>
<circle cx="163.8" cy="575.74" r="3.6" fill="#d01010" stroke="#8a0000" stroke-width="0.8"/>
<circle cx="163.8" cy="589.05" r="3.6" fill="#d01010" stroke="#8a0000" stroke-width="0.8"/>
<circle cx="226.2" cy="554.64" r="3.6" fill="#d01010" stroke="#8a0000" stroke-width="0.8"/>
<circle cx="226.2" cy="558.21" r="3.6" fill="#d01010" stroke="#8a0000" stroke-width="0.8"/>
<rect x="98.2" y="577.09" width="6.4" height="6.4" fill="#3d6fe6" stroke="#1f3f9f" stroke-width="0.8"/>
<rect x="98.2" y="601.27" width="6.4" height="6.4" fill="#3d6fe6" stroke="#1f3f9f" stroke-width="0.8"/>
<rect x="160.6" y="590.88" width="6.4" height="6.4" fill="#3d6fe6" stroke="#1f3f9f" stroke-width="0.8"/>
<rect x="160.6" y="606.14" width="6.4" height="6.4" fill="#3d6fe6" stroke="#1f3f9f" stroke-width="0.8"/>
<rect x="223" y="580.66" width="6.4" height="6.4" fill="#3d6fe6" stroke="#1f3f9f" stroke-width="0.8"/>
<rect x="223" y="584.23" width="6.4" height="6.4" fill="#3d6fe6" stroke="#1f3f9f" stroke-width="0.8"/>
<rect x="223" y="587.15" width="6.4" height="6.4" fill="#3d6fe6" stroke="#1f3f9f" stroke-width="0.8"/>
<text x="55.1" y="643.1" font-size="12.3" text-anchor="middle">0</text>
<text x="101.2" y="643.1" font-size="12.3" text-anchor="middle">18</text>
<text x="118.6" y="643.1" font-size="12.3" text-anchor="middle">24</text>
<text x="162.1" y="643.1" font-size="12.3" text-anchor="middle">42</text>
<text x="179.8" y="643.1" font-size="12.3" text-anchor="middle">48</text>
<text x="226.5" y="643.1" font-size="12.3" text-anchor="middle">66</text>
<text x="197.1" y="660.1" font-size="17" text-anchor="start">Time (h)</text>
<polygon points="54.9,644.8 51.4,662.6 58.4,662.6" fill="#000"/>
<text x="55.7" y="678" font-size="16.8" text-anchor="middle">Epo</text>
<polygon points="117.3,644.8 113.8,662.6 120.8,662.6" fill="#000"/>
<text x="118.1" y="678" font-size="16.8" text-anchor="middle">Epo</text>
<polygon points="179.7,644.8 176.2,662.6 183.2,662.6" fill="#000"/>
<text x="180.5" y="678" font-size="16.8" text-anchor="middle">Epo</text>
<text font-size="21.2" transform="translate(33.3,635.5) rotate(-90)">Bcl-x</text>
<text font-size="10.6" transform="translate(40.6,587.3) rotate(-90)">L</text>
<text font-size="11.6" letter-spacing="0.72" transform="translate(33.9,576.3) rotate(-90)">(MFI x10<tspan font-size="7.66" dy="-4.64">3</tspan><tspan dy="4.64">)</tspan></text>
<circle cx="269.8" cy="530" r="6.5" fill="#d81818" stroke="#8a0000" stroke-width="1"/>
<rect x="264.4" y="542.7" width="12" height="12" fill="#3d6fe6" stroke="#1f3f9f" stroke-width="1"/>
<text x="278.2" y="537.5" font-size="17.3" text-anchor="start">Epo</text>
<text x="279" y="554.9" font-size="17" text-anchor="start">Saline</text>
</svg></body></html>
